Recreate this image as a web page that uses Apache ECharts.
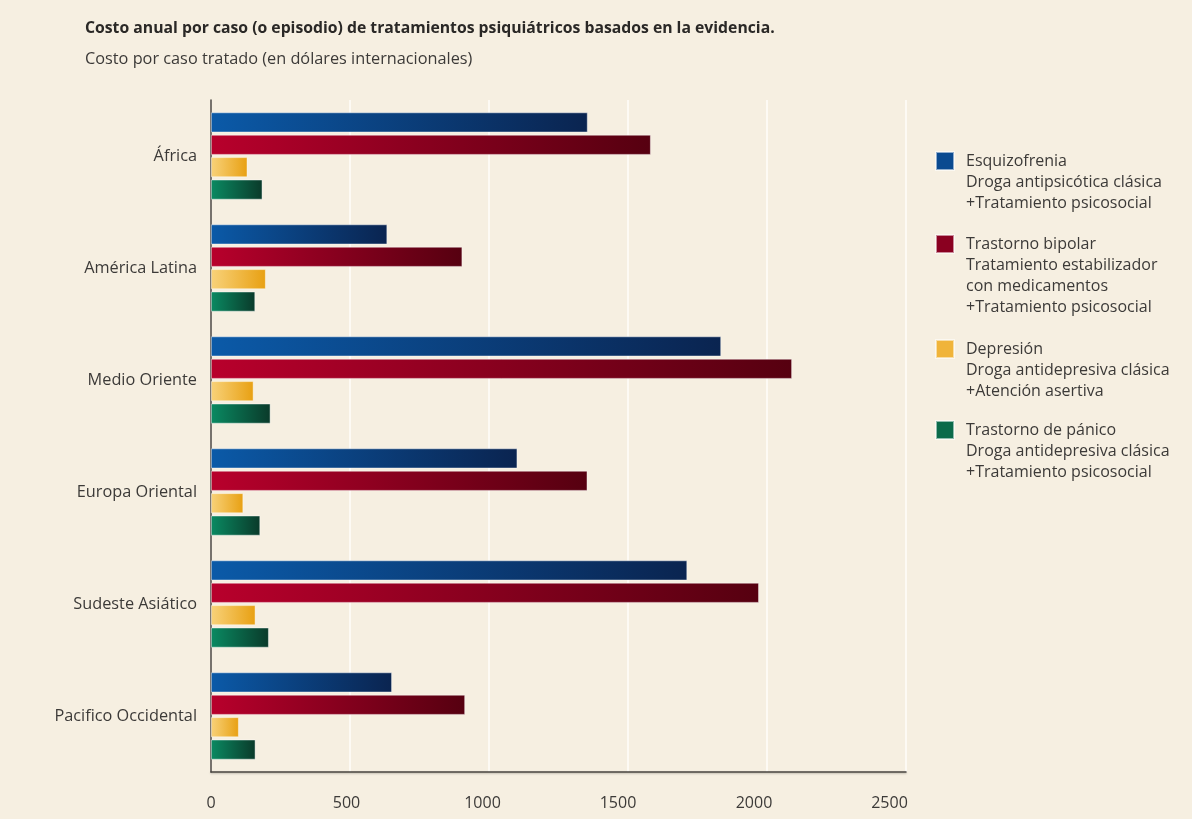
<!DOCTYPE html>
<html>
<head>
<meta charset="utf-8">
<script src="https://cdn.jsdelivr.net/npm/echarts@6/dist/echarts.min.js"></script>
<style>
  html, body { margin: 0; padding: 0; background: #f6efe1; }
  #chart { width: 1192px; height: 819px; }
</style>
</head>
<body>
<div id="chart"></div>
<script>
// Regions (top to bottom)
const regions = ['África', 'América Latina', 'Medio Oriente', 'Europa Oriental', 'Sudeste Asiático', 'Pacifico Occidental'];

// Annual cost per treated case, international dollars
const esquizofrenia   = [1355, 634, 1835, 1102, 1713, 651];
const bipolar         = [1582, 904, 2090, 1354, 1971, 914];
const depresion       = [131, 197, 153, 116, 160, 100];
const panico          = [185, 159, 214, 177, 208, 160];

const xTicks = [0, 500, 1000, 1500, 2000, 2500];

const seriesNames = [
  'Esquizofrenia\nDroga antipsicótica clásica\n+Tratamiento psicosocial',
  'Trastorno bipolar\nTratamiento estabilizador\ncon medicamentos\n+Tratamiento psicosocial',
  'Depresión\nDroga antidepresiva clásica\n+Atención asertiva',
  'Trastorno de pánico\nDroga antidepresiva clásica\n+Tratamiento psicosocial'
];

const FONT = '"Open Sans", "DejaVu Sans", sans-serif';

function grad(c0, c1) {
  return new echarts.graphic.LinearGradient(0, 0, 1, 0, [
    { offset: 0, color: c0 },
    { offset: 1, color: c1 }
  ]);
}

const palette = [
  ['#0b5aa8', '#0a2450', '#0a4a90'],
  ['#b8002c', '#560010', '#8a0020'],
  ['#f8d27a', '#e8a012', '#f0b43a'],
  ['#0a8a62', '#0a3a2a', '#0b6a4a']
];
const values = [esquizofrenia, bipolar, depresion, panico];

const series = values.map((vals, i) => ({
  name: seriesNames[i],
  type: 'bar',
  data: vals,
  barWidth: 20,
  barGap: '12%',
  color: palette[i][2],
  itemStyle: {
    color: grad(palette[i][0], palette[i][1]),
    borderColor: 'rgba(255,255,255,0.55)',
    borderWidth: 0.8
  },
  emphasis: { disabled: true }
}));

// one legend block per series; leading blank lines keep the swatch level with the first line
const LH = 21;
const legendIconTops = [152, 235, 340, 421];
const legends = seriesNames.map((name, i) => {
  const n = name.split('\n').length;
  const boxTop = 9 - (2 * n - 1) * LH / 2;
  return {
    left: 935,
    top: legendIconTops[i] + boxTop,
    padding: 0,
    orient: 'vertical',
    icon: 'rect',
    itemWidth: 18,
    itemHeight: 18,
    selectedMode: false,
    data: [{ name: name, itemStyle: { color: palette[i][2] } }],
    formatter: (s) => ' \n'.repeat(n - 1) + s,
    textStyle: {
      fontFamily: FONT,
      fontSize: 16,
      color: '#3c3a38',
      lineHeight: LH,
      padding: [0, 0, 0, 7]
    }
  };
});

// tick labels sit slightly left of their grid lines, more so toward the right
const tickRich = {};
xTicks.forEach((t, i) => {
  tickRich['t' + i] = { fontFamily: FONT, fontSize: 16, color: '#3c3a38', padding: [0, Math.round(i * 6.6), 0, 0] };
});

const chart = echarts.init(document.getElementById('chart'), null, { renderer: 'canvas' });
chart.setOption({
  backgroundColor: '#f6efe1',
  animation: false,
  title: [
    {
      text: 'Costo anual por caso (o episodio) de tratamientos psiquiátricos basados en la evidencia.',
      left: 80, top: 16,
      textStyle: { fontFamily: FONT, fontSize: 15.75, fontWeight: 'bold', color: '#2a2826' }
    },
    {
      text: 'Costo por caso tratado (en dólares internacionales)',
      left: 80, top: 46,
      textStyle: { fontFamily: FONT, fontSize: 16.3, fontWeight: 'normal', color: '#3c3a38' }
    }
  ],
  legend: legends,
  grid: { left: 211, right: 286, top: 100, bottom: 47, containLabel: false },
  xAxis: {
    type: 'value',
    min: xTicks[0],
    max: xTicks[xTicks.length - 1],
    interval: xTicks[1] - xTicks[0],
    axisLine: { show: true, lineStyle: { color: '#4a4540', width: 1.5, shadowColor: 'rgba(0,0,0,0.25)', shadowBlur: 2, shadowOffsetY: 1 } },
    axisTick: { show: false },
    splitLine: { show: true, lineStyle: { color: '#fdfaf4', width: 2 } },
    axisLabel: {
      fontFamily: FONT, fontSize: 16, color: '#3c3a38', margin: 23,
      formatter: (v) => '{t' + xTicks.indexOf(v) + '|' + v + '}',
      rich: tickRich
    }
  },
  yAxis: {
    type: 'category',
    data: regions,
    inverse: true,
    axisLine: { show: true, lineStyle: { color: '#4a4540', width: 1.5 } },
    axisTick: { show: false },
    splitLine: { show: false },
    axisLabel: { fontFamily: FONT, fontSize: 16.3, color: '#3c3a38', margin: 14 }
  },
  series: series
});
</script>
</body>
</html>
